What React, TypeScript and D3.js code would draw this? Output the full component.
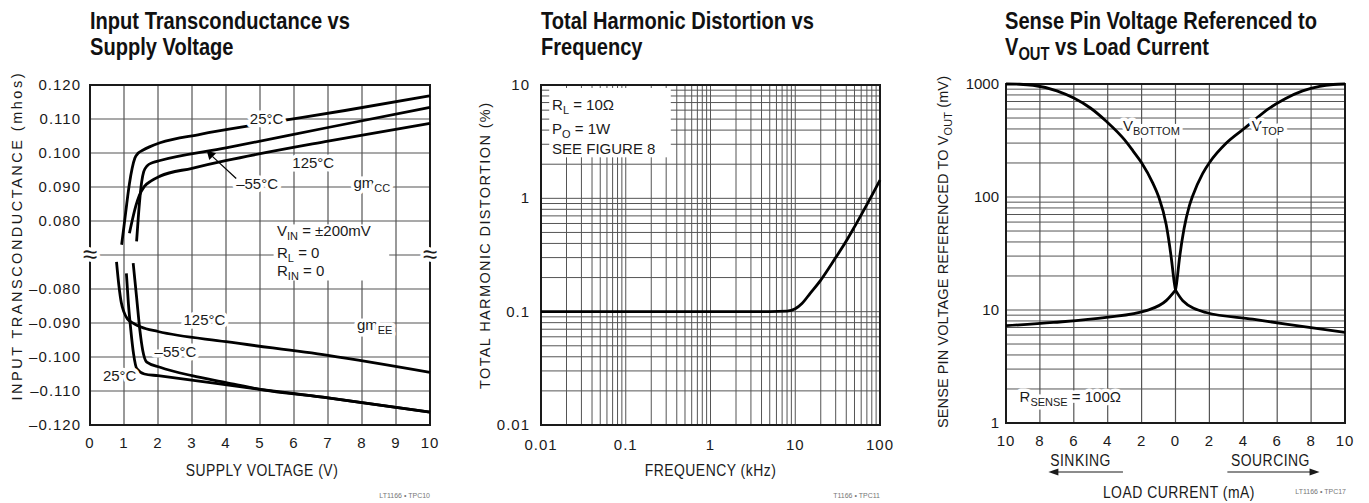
import * as d3 from 'd3';

// ---------- data ----------
// Input transconductance vs supply voltage, gm_CC (upper half)
const gmCC25 = [[0.93, 0.073], [1.0, 0.0785], [1.08, 0.085], [1.16, 0.091], [1.24, 0.0955], [1.32, 0.0985], [1.42, 0.1], [1.55, 0.1008], [1.75, 0.1018], [2.06, 0.103], [3.24, 0.1055], [5, 0.1085], [7.5, 0.1125], [10, 0.1168]];
const gmCCm55 = [[1.37, 0.074], [1.42, 0.081], [1.47, 0.087], [1.52, 0.0915], [1.58, 0.0945], [1.68, 0.0962], [1.85, 0.0972], [2.06, 0.0978], [4, 0.1015], [7, 0.1075], [10, 0.1134]];
const gmCC125 = [[1.16, 0.0764], [1.25, 0.0805], [1.35, 0.0845], [1.45, 0.0875], [1.6, 0.0902], [1.8, 0.0918], [2.06, 0.0932], [3, 0.0955], [4.02, 0.0978], [7, 0.1035], [10, 0.1087]];
// gm_EE (lower half)
const gmEE125 = [[0.78, -0.072], [0.85, -0.079], [0.92, -0.084], [1.0, -0.0868], [1.1, -0.0888], [1.3, -0.0902], [1.5, -0.0912], [2, -0.0925], [4, -0.0955], [7, -0.0995], [10, -0.1045]];
const gmEE25 = [[1.07, -0.0754], [1.13, -0.0844], [1.2, -0.092], [1.28, -0.099], [1.38, -0.1035], [1.6, -0.105], [2, -0.1055], [5, -0.1095], [7, -0.112], [10, -0.1162]];
const gmEEm55 = [[1.27, -0.0724], [1.37, -0.0824], [1.47, -0.0924], [1.55, -0.098], [1.67, -0.1015], [2.06, -0.103], [3, -0.1055], [4, -0.1075], [5, -0.1095], [7, -0.112], [10, -0.1162]];
const vTicks = [0, 1, 2, 3, 4, 5, 6, 7, 8, 9, 10];
const gmUpTicks = [0.12, 0.11, 0.1, 0.09, 0.08];
const gmLoTicks = [-0.08, -0.09, -0.1, -0.11, -0.12];

// THD vs frequency
const thdFreq = [0.01, 0.1, 1, 5, 8, 10, 12, 15, 20, 30, 40, 50, 70, 100];
const thdPct = [0.1, 0.1, 0.1, 0.1, 0.101, 0.106, 0.118, 0.145, 0.19, 0.3, 0.42, 0.56, 0.88, 1.45];
const freqTicks = [0.01, 0.1, 1, 10, 100];
const thdTicks = [0.01, 0.1, 1, 10];

// Sense pin voltage vs load current (sinking < 0, sourcing > 0)
const vBottomI = [-10, -9.2, -8.4, -7, -6, -5, -4.1, -3, -2.5, -2, -1.33, -1, -0.55, -0.25, -0.06, 0];
const vBottomMv = [1000, 995, 975, 870, 750, 610, 470, 320, 255, 201, 132, 101, 57, 29, 17, 15];
const vTopI = [0, 0.06, 0.24, 0.5, 0.82, 1, 1.6, 2, 3, 4, 4.55, 5.5, 6.5, 7.5, 8.5, 9.3, 10];
const vTopMv = [15, 17, 29, 52, 84, 101, 161, 201, 300, 398, 465, 605, 745, 870, 955, 990, 1000];
const sinkI = [-10, -7.2, -4.08, -1.73, -0.55, 0];
const sinkMv = [7.26, 7.76, 8.6, 9.86, 12.1, 15];
const sourceI = [0, 0.43, 1.81, 4.55, 6.51, 10];
const sourceMv = [15, 12.1, 9.5, 8.3, 7.5, 6.34];
const currentTicks = [-10, -8, -6, -4, -2, 0, 2, 4, 6, 8, 10];
const senseTicks = [1, 10, 100, 1000];

// ---------- styles ----------
const INK = '#1a1a1a';
const GRID = '#555';
const FONT = '"Liberation Sans", Arial, sans-serif';
const NARROW = 0.82;

const x1 = d3.scaleLinear().domain([0, 10]).range([90, 430]);
const yUp = d3.scaleLinear().domain([0.07, 0.12]).range([255, 85]);
const yLo = d3.scaleLinear().domain([-0.12, -0.07]).range([425, 255]);

const x2 = d3.scaleLog().domain([0.01, 100]).range([541, 880]);
const y2 = d3.scaleLog().domain([0.01, 10]).range([425, 85]);

const x3 = d3.scaleLinear().domain([-10, 10]).range([1006, 1345]);
const y3 = d3.scaleLog().domain([1, 1000]).range([423, 84]);

const logMinor = (lo: number, hi: number) => {
  const out: number[] = [];
  for (let d = lo; d < hi; d *= 10) for (let m = 1; m <= 9; m++) out.push(d * m);
  out.push(hi);
  return out;
};

const halo = { stroke: 'white', strokeWidth: 7, paintOrder: 'stroke' as const, strokeLinejoin: 'round' as const };

// condensed bold heading, two lines
const Title = ({ x, lines }: { x: number; lines: React.ReactNode[] }) => (
  <g transform={`translate(${x},0) scale(${NARROW},1)`}>
    {lines.map((l, i) => (
      <text key={i} x={0} y={29 + i * 26} fontFamily={FONT} fontWeight='bold' fontSize={24.5} fill='#111'>{l}</text>
    ))}
  </g>
);

// condensed axis caption, horizontal
const Caption = ({ x, y, children }: { x: number; y: number; children: React.ReactNode }) => (
  <g transform={`translate(${x},${y}) scale(${NARROW},1)`}>
    <text x={0} y={0} textAnchor='middle' fontFamily={FONT} fontSize={17} fill={INK} letterSpacing={0.6}>{children}</text>
  </g>
);

// rotated axis caption, spread to a given length
const YCaption = ({ x, y, len, children }: { x: number; y: number; len: number; children: React.ReactNode }) => (
  <text transform={`translate(${x},${y}) rotate(-90)`} textAnchor='middle' fontFamily={FONT} fontSize={14.5} fill={INK} textLength={len} lengthAdjust='spacing'>
    {children}
  </text>
);

const tickText = { fontFamily: FONT, fontSize: 15, fill: INK, letterSpacing: 1 };
const note = { fontFamily: FONT, fontSize: 15, fill: INK };

const Panel1 = () => {
  const lineUp = d3.line<number[]>().x((d) => x1(d[0])).y((d) => yUp(d[1])).curve(d3.curveMonotoneX);
  const lineLo = d3.line<number[]>().x((d) => x1(d[0])).y((d) => yLo(d[1])).curve(d3.curveMonotoneX);
  const [l, r] = x1.range();
  return (
    <g>
      <Title x={90} lines={['Input Transconductance vs', 'Supply Voltage']} />
      {/* grid */}
      {vTicks.slice(1, -1).map((v) => (
        <line key={'v' + v} x1={x1(v)} x2={x1(v)} y1={85} y2={425} stroke={GRID} strokeWidth={1.2} />
      ))}
      {gmUpTicks.slice(1).concat([0.07]).map((v) => (
        <line key={'u' + v} x1={l} x2={r} y1={yUp(v)} y2={yUp(v)} stroke={GRID} strokeWidth={1.2} />
      ))}
      {gmLoTicks.slice(0, -1).map((v) => (
        <line key={'lo' + v} x1={l} x2={r} y1={yLo(v)} y2={yLo(v)} stroke={GRID} strokeWidth={1.2} />
      ))}
      {/* conditions box */}
      <rect x={x1(5.4)} y={yUp(0.079)} width={x1(8.8) - x1(5.4)} height={yLo(-0.0775) - yUp(0.079)} fill='white' />
      <rect x={l} y={85} width={r - l} height={340} fill='none' stroke={INK} strokeWidth={2} />
      {/* curves */}
      {[gmCC25, gmCCm55, gmCC125].map((d, i) => (
        <path key={'c' + i} d={lineUp(d) || ''} fill='none' stroke='#000' strokeWidth={2.8} />
      ))}
      {[gmEE125, gmEE25, gmEEm55].map((d, i) => (
        <path key={'e' + i} d={lineLo(d) || ''} fill='none' stroke='#000' strokeWidth={2.8} />
      ))}
      {/* break marks */}
      {[l, r].map((x) => (
        <text key={'b' + x} x={x} y={yUp(0.07) + 8} textAnchor='middle' fontFamily={FONT} fontSize={26} fill={INK} style={halo}>≈</text>
      ))}
      {/* labels */}
      <text x={x1(4.7)} y={yUp(0.1085)} {...note} style={halo}>25°C</text>
      <text x={x1(5.95)} y={yUp(0.0955)} {...note} style={halo}>125°C</text>
      <text x={x1(4.3)} y={yUp(0.0895)} {...note} style={halo}>–55°C</text>
      <text x={x1(7.75)} y={yUp(0.0898)} {...note} style={halo}>
        gm<tspan dy={4} fontSize={11}>CC</tspan>
      </text>
      <line x1={x1(4.3)} y1={yUp(0.0925)} x2={x1(3.6)} y2={yUp(0.099)} stroke='#000' strokeWidth={1.2} />
      <path d={d3.symbol(d3.symbolTriangle, 40)() || ''} transform={`translate(${x1(3.55)},${yUp(0.0995)}) rotate(-45)`} fill='#000' />
      <text x={x1(5.5)} y={yUp(0.0755)} {...note}>
        V<tspan dy={4} fontSize={11}>IN</tspan><tspan dy={-4}> = ±200mV</tspan>
      </text>
      <text x={x1(5.5)} y={yUp(0.069)} {...note}>
        R<tspan dy={4} fontSize={11}>L</tspan><tspan dy={-4}> = 0</tspan>
      </text>
      <text x={x1(5.5)} y={yLo(-0.0762)} {...note}>
        R<tspan dy={4} fontSize={11}>IN</tspan><tspan dy={-4}> = 0</tspan>
      </text>
      <text x={x1(2.75)} y={yLo(-0.0905)} {...note} style={halo}>125°C</text>
      <text x={x1(1.9)} y={yLo(-0.1)} {...note} style={halo}>–55°C</text>
      <text x={x1(0.38)} y={yLo(-0.1072)} {...note} style={halo}>25°C</text>
      <text x={x1(7.85)} y={yLo(-0.092)} {...note} style={halo}>
        gm<tspan dy={4} fontSize={11}>EE</tspan>
      </text>
      {/* ticks */}
      {gmUpTicks.map((v) => (
        <text key={'tu' + v} x={81} y={yUp(v) + 5} textAnchor='end' {...tickText}>{d3.format('.3f')(v)}</text>
      ))}
      {gmLoTicks.map((v) => (
        <text key={'tl' + v} x={81} y={yLo(v) + 5} textAnchor='end' {...tickText}>{d3.format('.3f')(v).replace('−', '–')}</text>
      ))}
      {vTicks.map((v) => (
        <text key={'tx' + v} x={x1(v)} y={448} textAnchor='middle' {...tickText}>{v}</text>
      ))}
      <Caption x={(l + r) / 2 + 2} y={476}>SUPPLY VOLTAGE (V)</Caption>
      <YCaption x={22} y={237} len={327}>INPUT TRANSCONDUCTANCE (mhos)</YCaption>
      <text x={430} y={498} textAnchor='end' fontFamily={FONT} fontSize={7} fill='#777'>LT1166 • TPC10</text>
    </g>
  );
};

const Panel2 = () => {
  const pts = thdFreq.map((f, i) => [f, thdPct[i]]);
  const line = d3.line<number[]>().x((d) => x2(d[0])).y((d) => y2(d[1])).curve(d3.curveMonotoneX);
  const [l, r] = x2.range();
  return (
    <g>
      <Title x={541} lines={['Total Harmonic Distortion vs', 'Frequency']} />
      {logMinor(0.01, 100).slice(1, -1).map((v) => (
        <line key={'v' + v} x1={x2(v)} x2={x2(v)} y1={85} y2={425} stroke={GRID} strokeWidth={1} />
      ))}
      {logMinor(0.01, 10).slice(1, -1).map((v) => (
        <line key={'h' + v} x1={l} x2={r} y1={y2(v)} y2={y2(v)} stroke={GRID} strokeWidth={1} />
      ))}
      <rect x={x2(0.0125)} y={88} width={x2(0.34) - x2(0.0125)} height={y2(2.3) - 88} fill='white' />
      <rect x={l} y={85} width={r - l} height={340} fill='none' stroke={INK} strokeWidth={2} />
      <path d={line(pts) || ''} fill='none' stroke='#000' strokeWidth={2.8} />
      <text x={x2(0.0135)} y={y2(6.0)} {...note}>
        R<tspan dy={4} fontSize={11}>L</tspan><tspan dy={-4}> = 10Ω</tspan>
      </text>
      <text x={x2(0.0135)} y={y2(3.7)} {...note}>
        P<tspan dy={4} fontSize={11}>O</tspan><tspan dy={-4}> = 1W</tspan>
      </text>
      <text x={x2(0.0135)} y={y2(2.45)} {...note}>SEE FIGURE 8</text>
      {thdTicks.map((v) => (
        <text key={'ty' + v} x={530} y={y2(v) + 5} textAnchor='end' {...tickText}>{v}</text>
      ))}
      {freqTicks.map((v) => (
        <text key={'tx' + v} x={x2(v)} y={450} textAnchor='middle' {...tickText}>{v}</text>
      ))}
      <Caption x={(l + r) / 2} y={476}>FREQUENCY (kHz)</Caption>
      <YCaption x={490} y={246} len={286}>TOTAL HARMONIC DISTORTION (%)</YCaption>
      <text x={880} y={498} textAnchor='end' fontFamily={FONT} fontSize={7} fill='#777'>T1166 • TPC11</text>
    </g>
  );
};

const Panel3 = () => {
  const line = d3.line<number[]>().x((d) => x3(d[0])).y((d) => y3(d[1])).curve(d3.curveMonotoneX);
  const series = [
    vBottomI.map((v, i) => [v, vBottomMv[i]]),
    vTopI.map((v, i) => [v, vTopMv[i]]),
    sinkI.map((v, i) => [v, sinkMv[i]]),
    sourceI.map((v, i) => [v, sourceMv[i]]),
  ];
  const [l, r] = x3.range();
  const arrowY = 472;
  return (
    <g>
      <Title x={1005} lines={['Sense Pin Voltage Referenced to', <>V<tspan dy={5} fontSize={18}>OUT</tspan><tspan dy={-5}> vs Load Current</tspan></>]} />
      {currentTicks.slice(1, -1).map((v) => (
        <line key={'v' + v} x1={x3(v)} x2={x3(v)} y1={84} y2={423} stroke={GRID} strokeWidth={1.2} />
      ))}
      {logMinor(1, 1000).slice(1, -1).map((v) => (
        <line key={'h' + v} x1={l} x2={r} y1={y3(v)} y2={y3(v)} stroke={GRID} strokeWidth={1} />
      ))}
      <rect x={l} y={84} width={r - l} height={339} fill='none' stroke={INK} strokeWidth={2} />
      {series.map((d, i) => (
        <path key={i} d={line(d) || ''} fill='none' stroke='#000' strokeWidth={2.8} />
      ))}
      <text x={x3(-3.1)} y={y3(430) + 6} {...note} style={halo}>
        V<tspan dy={4} fontSize={11}>BOTTOM</tspan>
      </text>
      <text x={x3(4.5)} y={y3(430) + 6} {...note} style={halo}>
        V<tspan dy={4} fontSize={11}>TOP</tspan>
      </text>
      <text x={x3(-9.2)} y={y3(1.75) + 6} {...note} style={halo}>
        R<tspan dy={4} fontSize={11}>SENSE</tspan><tspan dy={-4}> = 100Ω</tspan>
      </text>
      {senseTicks.map((v) => (
        <text key={'ty' + v} x={999} y={y3(v) + 5} textAnchor='end' {...tickText} letterSpacing={0}>{v}</text>
      ))}
      {currentTicks.map((v) => (
        <text key={'tx' + v} x={x3(v)} y={446} textAnchor='middle' {...tickText}>{Math.abs(v)}</text>
      ))}
      <Caption x={x3(-5.6)} y={466}>SINKING</Caption>
      <Caption x={x3(5.6)} y={466}>SOURCING</Caption>
      <line x1={x3(-7.2)} x2={x3(-3.1)} y1={arrowY} y2={arrowY} stroke={INK} strokeWidth={1.2} />
      <path d={`M${x3(-7.5)},${arrowY} l10,-3.5 l0,7 z`} fill={INK} />
      <line x1={x3(3.06)} x2={x3(8.2)} y1={arrowY} y2={arrowY} stroke={INK} strokeWidth={1.2} />
      <path d={`M${x3(8.5)},${arrowY} l-10,-3.5 l0,7 z`} fill={INK} />
      <Caption x={x3(0.2)} y={498}>LOAD CURRENT (mA)</Caption>
      <YCaption x={948} y={252} len={352}>
        SENSE PIN VOLTAGE REFERENCED TO V<tspan dy={4} fontSize={11}>OUT</tspan><tspan dy={-4}> (mV)</tspan>
      </YCaption>
      <text x={1346} y={494} textAnchor='end' fontFamily={FONT} fontSize={7} fill='#777'>LT1166 • TPC17</text>
    </g>
  );
};

export default function App() {
  return (
    <svg width={1369} height={503} style={{ position: 'absolute', left: 0, top: 0, background: 'white' }}>
      <rect width={1369} height={503} fill='white' />
      <Panel1 />
      <Panel2 />
      <Panel3 />
    </svg>
  );
}
